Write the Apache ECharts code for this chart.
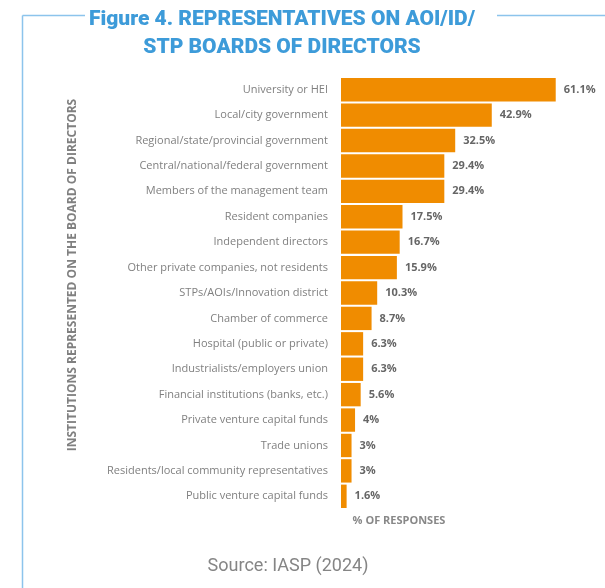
<!DOCTYPE html>
<html><head><meta charset="utf-8">
<script src="https://cdn.jsdelivr.net/npm/echarts@6/dist/echarts.min.js"></script>
<style>html,body{margin:0;padding:0;background:#fff}#c{width:605px;height:588px}</style>
</head><body><div id="c"></div>
<script>
const categories = [
  "University or HEI",
  "Local/city government",
  "Regional/state/provincial government",
  "Central/national/federal government",
  "Members of the management team",
  "Resident companies",
  "Independent directors",
  "Other private companies, not residents",
  "STPs/AOIs/Innovation district",
  "Chamber of commerce",
  "Hospital (public or private)",
  "Industrialists/employers union",
  "Financial institutions (banks, etc.)",
  "Private venture capital funds",
  "Trade unions",
  "Residents/local community representatives",
  "Public venture capital funds"
];
const values = [61.1, 42.9, 32.5, 29.4, 29.4, 17.5, 16.7, 15.9, 10.3, 8.7, 6.3, 6.3, 5.6, 4, 3, 3, 1.6];

const chart = echarts.init(document.getElementById('c'));
chart.setOption({
  animation: false,
  backgroundColor: '#fff',
  graphic: [
    {type:'line', shape:{x1:22.5,y1:15.5,x2:22.5,y2:588}, style:{stroke:'#8cc4ec',lineWidth:1.5}},
    {type:'line', shape:{x1:22.5,y1:15.5,x2:85,y2:15.5}, style:{stroke:'#8cc4ec',lineWidth:1.5}},
    {type:'line', shape:{x1:497,y1:15.5,x2:605,y2:15.5}, style:{stroke:'#8cc4ec',lineWidth:1.5}},
    {type:'text', style:{x:282, y:20, text:'Figure 4. REPRESENTATIVES ON AOI/ID/', fill:'#3d9bd9', font:'900 21px Roboto', align:'center', verticalAlign:'middle'}},
    {type:'text', style:{x:282, y:48, text:'STP BOARDS OF DIRECTORS', fill:'#3d9bd9', font:'900 21px Roboto', align:'center', verticalAlign:'middle'}},
    {type:'text', style:{x:288, y:566, text:'Source: IASP (2024)', fill:'#858585', font:'18px Roboto', align:'center', verticalAlign:'middle'}},
    {type:'text', style:{x:399, y:521, text:'% OF RESPONSES', fill:'#888', font:'bold 11px "Open Sans"', align:'center', verticalAlign:'middle'}},
    {type:'text', rotation:Math.PI/2, x:73, y:275, style:{x:0, y:0, text:'INSTITUTIONS REPRESENTED ON THE BOARD OF DIRECTORS', fill:'#808080', font:'bold 12px "Open Sans"', align:'center', verticalAlign:'middle'}}
  ],
  grid: {left:341, top:77, width:246, height:432, containLabel:false},
  xAxis: {type:'value', min:0, max:70, show:false},
  yAxis: {
    type:'category', data:categories, inverse:true,
    axisLine:{show:false}, axisTick:{show:false},
    axisLabel:{color:'#808080', fontSize:11, fontFamily:'"Open Sans"', margin:13}
  },
  series: [{
    type:'bar', data:values, barCategoryGap:'8%',
    itemStyle:{color:'#f08c00'},
    label:{show:true, position:'right', distance:8, formatter: p => p.value + '%', color:'#666', fontSize:11, fontWeight:'bold', fontFamily:'"Open Sans"'}
  }]
});
</script></body></html>
